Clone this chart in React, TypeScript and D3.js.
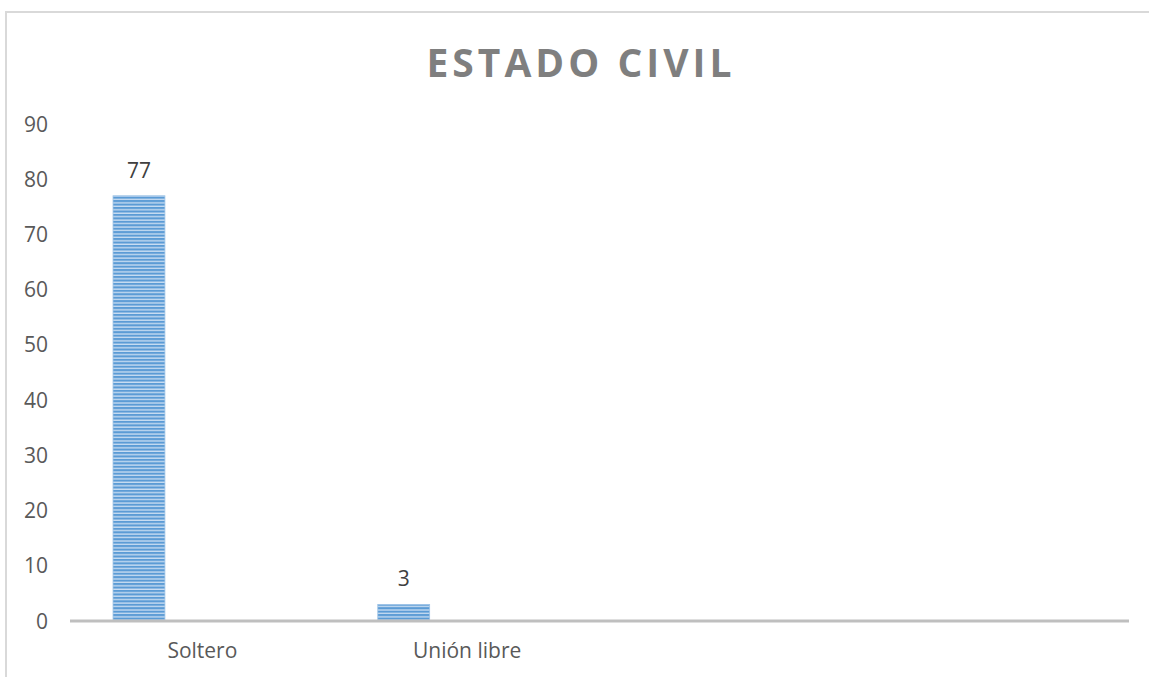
import React from "react";
import * as d3 from "d3";

const title = "ESTADO CIVIL";
const categories = ["Soltero", "Unión libre", "", ""];
const values: (number | null)[] = [77, 3, null, null];
const yTicks = [0, 10, 20, 30, 40, 50, 60, 70, 80, 90];

const W = 1149;
const H = 677;
const FONT = "'Open Sans', 'Noto Sans', sans-serif";

export default function App() {
  const idx = categories.map((_, i) => String(i));
  const x = d3.scaleBand<string>().domain(idx).range([70, 1129]).padding(0);
  const y = d3.scaleLinear().domain([0, 90]).range([621, 124]);
  const bw = x.bandwidth();
  const barOffset = bw * 0.1625;
  const barWidth = bw * 0.196;

  return (
    <svg
      width={W}
      height={H}
      style={{ position: "absolute", left: 0, top: 0, background: "#fff" }}
      fontFamily={FONT}
    >
      <defs>
        <pattern id="stripes" patternUnits="userSpaceOnUse" width={8} height={3.45}>
          <rect x={0} y={0} width={8} height={3.45} fill="#c9ddf2" />
          <rect x={0} y={0} width={8} height={2.1} fill="#5b9bd5" />
        </pattern>
      </defs>
      {/* chart border */}
      <path d={`M6,${H} L6,12 L${W},12`} fill="none" stroke="#d9d9d9" strokeWidth={2} />
      <text
        x={581}
        y={77}
        textAnchor="middle"
        fontSize={39}
        fontWeight={700}
        letterSpacing={4}
        fill="#7f7f7f"
      >
        {title}
      </text>
      {/* y tick labels */}
      {yTicks.map((t) => (
        <text key={t} x={48} y={y(t)} dy="0.36em" textAnchor="end" fontSize={21} fill="#595959">
          {t}
        </text>
      ))}
      {/* bars */}
      {values.map((v, i) =>
        v == null ? null : (
          <g key={i}>
            <rect
              x={(x(String(i)) as number) + barOffset}
              y={y(v)}
              width={barWidth}
              height={y(0) - y(v)}
              fill="url(#stripes)"
              stroke="#9dc3e6"
              strokeWidth={0.8}
            />
            <text
              x={(x(String(i)) as number) + barOffset + barWidth / 2}
              y={y(v) - 18}
              textAnchor="middle"
              fontSize={21}
              fill="#404040"
            >
              {v}
            </text>
          </g>
        )
      )}
      {/* x axis */}
      <line x1={70} x2={1129} y1={y(0)} y2={y(0)} stroke="#bfbfbf" strokeWidth={3} />
      {categories.map((c, i) => (
        <text
          key={i}
          x={(x(String(i)) as number) + bw / 2}
          y={658}
          textAnchor="middle"
          fontSize={21}
          fill="#595959"
        >
          {c}
        </text>
      ))}
    </svg>
  );
}
